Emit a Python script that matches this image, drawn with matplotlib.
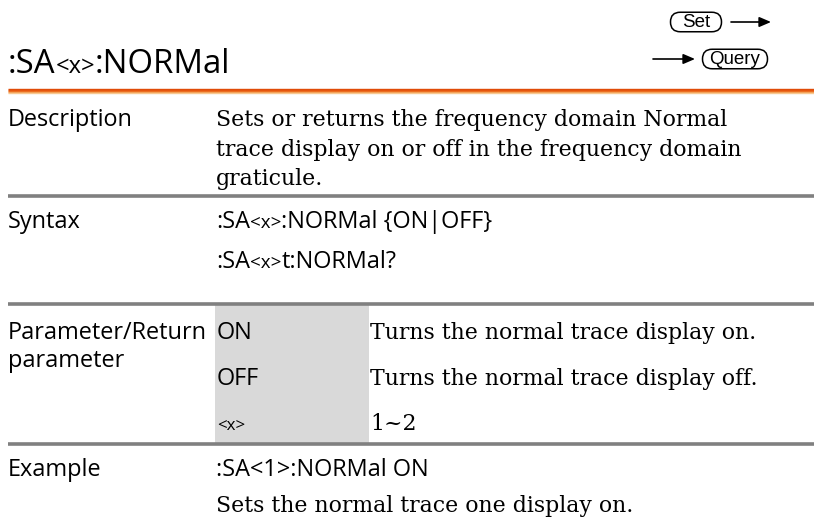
import matplotlib
matplotlib.use("Agg")
import matplotlib.pyplot as plt
from matplotlib.patches import FancyBboxPatch, Rectangle
from matplotlib.textpath import TextPath
from matplotlib.font_manager import FontProperties

# ---- content ----
title_runs = [":SA", "<x>", ":NORMal"]
row_labels = ["Description", "Syntax", "Parameter/Return", "parameter", "Example"]
description_lines = ["Sets or returns the frequency domain Normal",
                     "trace display on or off in the frequency domain",
                     "graticule."]
syntax_runs = [[":SA", "<x>", ":NORMal {ON|OFF}"], [":SA", "<x>", "t:NORMal?"]]
param_names = ["ON", "OFF", "<x>"]
param_desc = ["Turns the normal trace display on.",
              "Turns the normal trace display off.",
              "1~2"]
example_cmd = ":SA<1>:NORMal ON"
example_desc = "Sets the normal trace one display on."
badge_set = "Set"
badge_query = "Query"

W, H = 814, 530
fig = plt.figure(figsize=(W / 100, H / 100), dpi=100)
ax = fig.add_axes([0, 0, 1, 1])
ax.set_xlim(0, W)
ax.set_ylim(H, 0)
ax.axis("off")

SANS = "Open Sans"
SERIF = "DejaVu Serif"

def path_ext(s, family, size_pt):
    tp = TextPath((0, 0), s, size=size_pt * 100 / 72, prop=FontProperties(family=family))
    return tp.get_extents()

def fit(s, family, target):
    return 12 * target / path_ext(s, family, 12).width

sans_size = fit("Parameter/Return", SANS, 195)
serif_size = fit("Sets or returns the frequency domain Normal", SERIF, 510)

def runs(x, y, parts, size, family, small_ratio, small=("<x>",)):
    for p in parts:
        sz = size * small_ratio if p in small else size
        ax.text(x, y, p, family=family, fontsize=sz, va="baseline", ha="left")
        x += path_ext(p, family, sz).x1 + sz * 100 / 72 * 0.02

c1, c2, c3 = 8, 216, 370

# title
tr = 0.72
title_size = 12 * 215 / (path_ext(":SA:NORMal", SANS, 12).width + path_ext("<x>", SANS, 12 * tr).width)
runs(c1, 73, title_runs, title_size, SANS, tr)

# orange rule with gradient
for dy, col in zip([0, 1.2, 2.4, 3.6, 4.8], ["#e04a08", "#e4520c", "#ea6418", "#f19a50", "#f7c890"]):
    ax.plot([c1, W], [88.6 + dy, 88.6 + dy], color=col, lw=1.0, solid_capstyle="butt")

# Set / Query badges
def badge(x0, x1, y, label):
    h = 19.5
    p = FancyBboxPatch((x0 + 9.5, y - h / 2), (x1 - x0) - 19, h,
                       boxstyle="round,pad=0,rounding_size=9.7",
                       fc="white", ec="black", lw=1.1, mutation_aspect=1)
    ax.add_patch(p)
    ax.text((x0 + x1) / 2, y + 0.5, label, family="Liberation Sans", fontsize=13.5,
            ha="center", va="center")
badge(661, 731, 22, badge_set)
ax.annotate("", xy=(771, 22), xytext=(731, 22),
            arrowprops=dict(arrowstyle="-|>,head_length=0.7,head_width=0.3", color="black", lw=1.2,
                            shrinkA=0, shrinkB=0))
badge(693, 777, 59, badge_query)
ax.annotate("", xy=(695, 59), xytext=(653, 59),
            arrowprops=dict(arrowstyle="-|>,head_length=0.7,head_width=0.3", color="black", lw=1.2,
                            shrinkA=0, shrinkB=0))

# gray param column
ax.add_patch(Rectangle((215, 305), 369 - 215, 443 - 305, fc="#d9d9d9", ec="none"))

# table rules
for y in [195.5, 304, 444]:
    ax.plot([c1, W], [y, y], color="#808080", lw=2.6, solid_capstyle="butt")

# Description row
ax.text(c1, 126, row_labels[0], family=SANS, fontsize=sans_size, va="baseline")
for y, s in zip([126, 156, 185.5], description_lines):
    ax.text(c2, y, s, family=SERIF, fontsize=serif_size, va="baseline")

# Syntax row
ax.text(c1, 228, row_labels[1], family=SANS, fontsize=sans_size, va="baseline")
for y, parts in zip([228, 268], syntax_runs):
    runs(c2, y, parts, sans_size, SANS, 0.8)

# Parameter row
ax.text(c1, 339, row_labels[2], family=SANS, fontsize=sans_size, va="baseline")
ax.text(c1, 367, row_labels[3], family=SANS, fontsize=sans_size, va="baseline")
for y, n, d in zip([339, 385, 430], param_names, param_desc):
    ax.text(c2 + 1, y, n, family=SANS,
            fontsize=sans_size if n != "<x>" else sans_size * 0.72, va="baseline")
    ax.text(c3, y, d, family=SERIF, fontsize=serif_size, va="baseline")

# Example row
ax.text(c1, 476, row_labels[4], family=SANS, fontsize=sans_size, va="baseline")
ax.text(c2, 476, example_cmd, family=SANS, fontsize=sans_size, va="baseline")
ax.text(c2, 512, example_desc, family=SERIF, fontsize=serif_size, va="baseline")

fig.savefig("out.png", dpi=100)
